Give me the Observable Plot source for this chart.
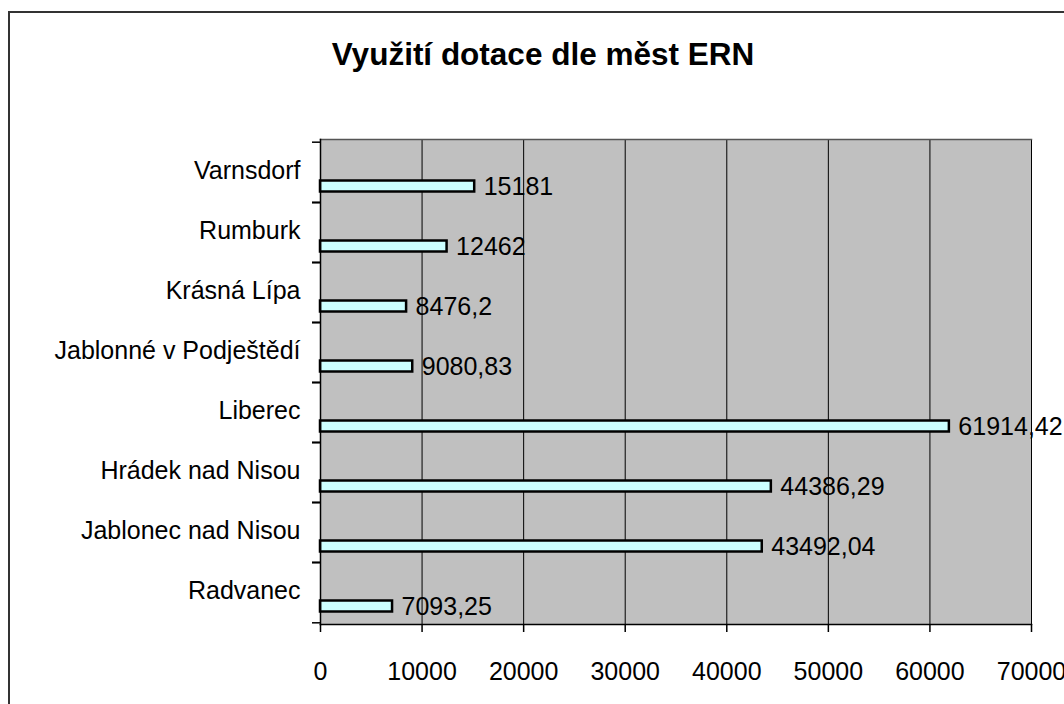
<!DOCTYPE html>
<html>
<head>
<meta charset="utf-8">
<script src="https://cdn.jsdelivr.net/npm/d3@7"></script>
<script src="https://cdn.jsdelivr.net/npm/@observablehq/plot@0.6"></script>
<style>
  html, body { margin: 0; padding: 0; background: white; overflow: hidden; }
  #wrap { position: relative; width: 1064px; height: 704px; overflow: hidden; }
  #chart { position: absolute; left: 0; top: 0; }
  #border { position: absolute; left: 8px; top: 11px; width: 1100px; height: 800px;
            border: 2px solid #333; pointer-events: none; }
  #title { position: absolute; left: 0; top: 39px; width: 1086px; text-align: center;
           font: bold 31.5px Arial, "Liberation Sans", sans-serif; line-height: 1; color: #000; }
</style>
</head>
<body>
<div id="wrap">
  <div id="chart"></div>
  <div id="border"></div>
  <div id="title">Využití dotace dle měst ERN</div>
</div>
<script>
const cities = ["Varnsdorf", "Rumburk", "Krásná Lípa", "Jablonné v Podještědí", "Liberec", "Hrádek nad Nisou", "Jablonec nad Nisou", "Radvanec"];
const values = [15181, 12462, 8476.2, 9080.83, 61914.42, 44386.29, 43492.04, 7093.25];
const xTicks = [0, 10000, 20000, 30000, 40000, 50000, 60000, 70000];

const data = cities.map((c, i) => ({city: c, value: values[i]}));
const fmt = v => String(v).replace(".", ",");

const W = 1064, H = 704, mT = 139, mB = 80, mL = 320, mR = 33;
const bandH = (H - mT - mB) / cities.length;
const font = "Arial, 'Liberation Sans', sans-serif";
const fs = 25;

const chart = Plot.plot({
  width: W, height: H,
  marginTop: mT, marginBottom: mB, marginLeft: mL, marginRight: mR,
  style: {fontFamily: font, fontSize: fs + "px", color: "black", background: "white"},
  x: {domain: [0, 70000], axis: null},
  y: {domain: cities, padding: 0, axis: null},
  marks: [
    Plot.frame({fill: "#c0c0c0", stroke: "none"}),
    Plot.text(data, {x: "value", y: "city", text: d => fmt(d.value), textAnchor: "start",
                     dx: 9, dy: 14, fontSize: fs, fill: "black"}),
    Plot.gridX({ticks: xTicks.slice(1), stroke: "black", strokeOpacity: 1, strokeWidth: 1}),
    Plot.barX(data, {x: "value", y: "city", fill: "#ccffff", stroke: "black", strokeWidth: 2.5,
                     insetTop: 38.5, insetBottom: 10.5}),
    Plot.frame({anchor: "top", stroke: "#555", strokeWidth: 1.5}),
    Plot.frame({anchor: "bottom", stroke: "black", strokeWidth: 1.5}),
    Plot.frame({anchor: "left", stroke: "black", strokeWidth: 1.5}),
    Plot.axisY({tickSize: 8, tickFormat: () => "", label: null, dy: -bandH / 2, stroke: "black", strokeWidth: 1.5}),
    Plot.axisY({tickSize: 8, tickFormat: () => "", label: null, dy: bandH / 2, stroke: "black", strokeWidth: 1.5}),
    Plot.axisY({tickSize: 0, tickPadding: 20, label: null, fontSize: fs, fill: "black", dy: -2}),
    Plot.axisX({ticks: xTicks, tickSize: 8, tickPadding: 30, tickFormat: d => String(d), label: null,
                fontSize: fs, stroke: "black", strokeWidth: 1.5, fill: "black"})
  ]
});
document.getElementById("chart").appendChild(chart);
</script>
</body>
</html>
